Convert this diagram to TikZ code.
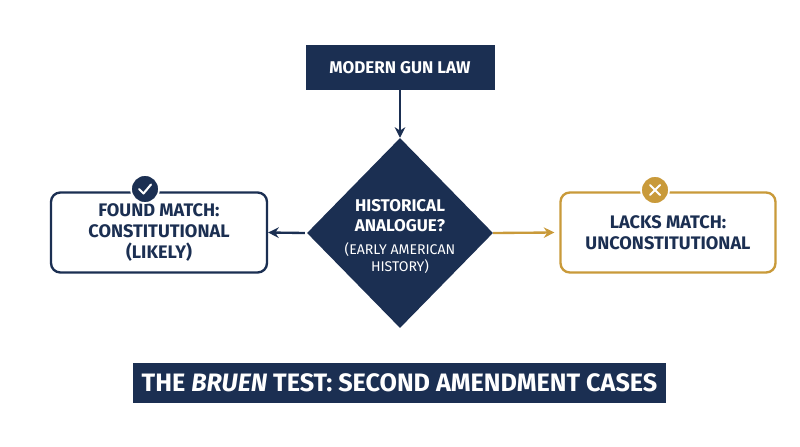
\documentclass[tikz,border=0pt]{standalone}
\usepackage{fontspec}
\setmainfont{Fira Sans}
\usetikzlibrary{shapes.geometric,arrows.meta}
\definecolor{navy}{HTML}{1B2F52}
\definecolor{gold}{HTML}{C99A3A}
\begin{document}
\begin{tikzpicture}[x=0.03cm,y=-0.03cm,
  lbl/.style={font=\fontseries{sb}\selectfont\fontsize{15.5}{18}\selectfont,align=center},
  arr/.style={line width=2pt,-{Stealth[length=9pt,width=9pt]}}]
\useasboundingbox[fill=white] (0,0) rectangle (800,447);
\node[fill=navy,text=white,font=\fontseries{sb}\selectfont\fontsize{14.5}{17}\selectfont,minimum width=189*0.03cm,minimum height=45*0.03cm] (top) at (400,67.5) {MODERN GUN LAW};
\node[diamond,fill=navy,minimum width=186*0.03cm,minimum height=190*0.03cm,inner sep=0pt] (d) at (400,233) {};
\node[text=white,lbl,font=\fontseries{sb}\selectfont\fontsize{14.5}{17}\selectfont] (dt) at (400,216) {HISTORICAL\\ANALOGUE?};
\node[text=white,align=center,font=\fontsize{12}{14.5}\selectfont] (dt2) at (400,258) {(EARLY AMERICAN\\HISTORY)};
\node[draw=navy,line width=2pt,rounded corners=8pt,fill=white,text=navy,lbl,minimum width=216*0.03cm,minimum height=80*0.03cm] (l) at (159,232.5) {FOUND MATCH:\\CONSTITUTIONAL\\(LIKELY)};
\node[draw=gold,line width=2pt,rounded corners=8pt,fill=white,text=navy,lbl,minimum width=215*0.03cm,minimum height=80*0.03cm] (r) at (668,232.5) {LACKS MATCH:\\UNCONSTITUTIONAL};
\node[circle,fill=navy,draw=white,line width=1.5pt,minimum size=28*0.03cm,inner sep=0pt] (ck) at (145,189) {};
\draw[white,line width=1.8pt,line cap=round,line join=round] (139,189) -- (143.5,193.5) -- (151,184.5);
\node[circle,fill=gold,draw=white,line width=1.5pt,minimum size=28*0.03cm,inner sep=0pt] (xx) at (655,190) {};
\draw[white,line width=1.8pt,line cap=round] (650,185) -- (660,195) (650,195) -- (660,185);
\draw[arr,navy] (top.south) -- (d.north);
\draw[arr,navy] ([xshift=-2*0.03cm]d.west) -- (l.east);
\draw[arr,gold] (d.east) -- ([xshift=-5*0.03cm]r.west);
\node[fill=navy,text=white,font=\fontseries{sb}\selectfont\fontsize{21.5}{25}\selectfont,minimum width=533*0.03cm,minimum height=40*0.03cm] (b) at (399.5,383) {THE \textit{BRUEN} TEST: SECOND AMENDMENT CASES};
\end{tikzpicture}
\end{document}
